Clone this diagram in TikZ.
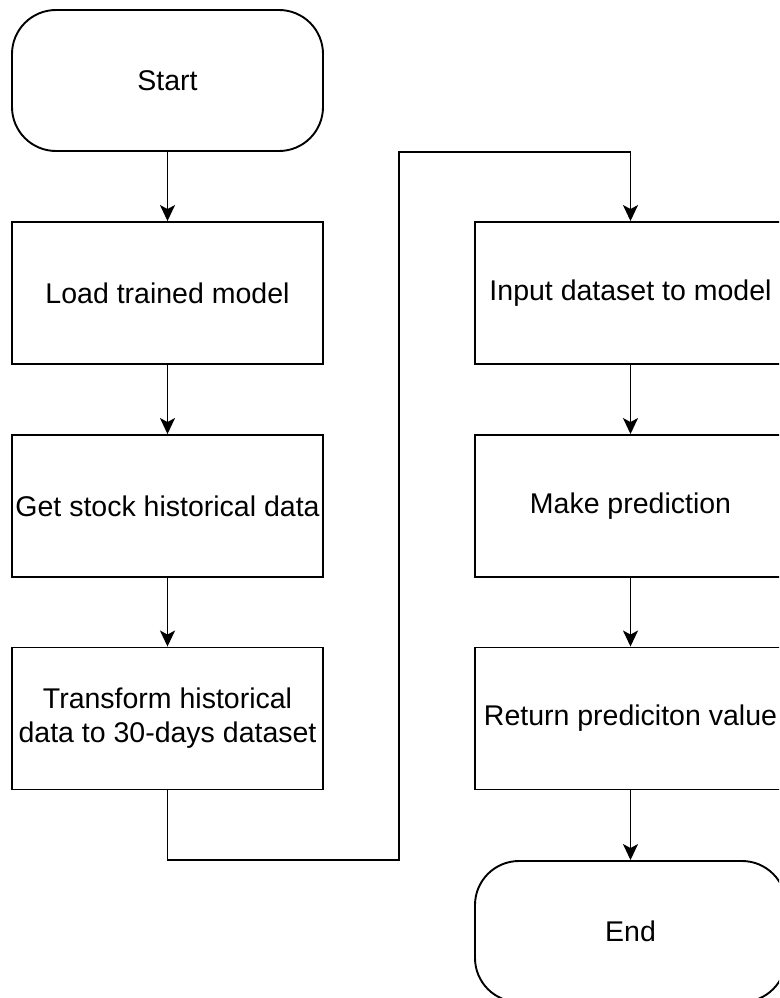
\documentclass[tikz,border=0pt]{standalone}
\usepackage{fontspec}
\setmainfont{Liberation Sans}
\usetikzlibrary{arrows.meta}
\begin{document}
\begin{tikzpicture}[x=1pt,y=-1pt,
  every node/.style={font=\fontsize{28.5}{34.2}\selectfont, align=center, inner sep=0pt},
  stepbox/.style={draw, line width=1.9pt, rectangle, minimum width=311pt, minimum height=142pt},
  termbox/.style={draw, line width=1.9pt, rectangle, rounded corners=44pt, minimum width=311pt, minimum height=141pt},
  arr/.style={line width=1.9pt, -{Stealth[length=16pt, width=15pt, inset=4pt]}}]
  \useasboundingbox (0,0) rectangle (779,998);
  \clip (0,0) rectangle (779,998);
  % left column
  \node[termbox] (start) at (167.5,80.5) {Start};
  \node[stepbox] (load)  at (167.5,293)  {Load trained model};
  \node[stepbox] (get)   at (167.5,506)  {Get stock historical data};
  \node[stepbox] (trans) at (167.5,718.5) {Transform historical\\data to 30-days dataset};
  % right column
  \node[stepbox] (inp)   at (630.5,293)  {Input dataset to model};
  \node[stepbox] (make)  at (630.5,506)  {Make prediction};
  \node[stepbox] (ret)   at (630.5,718.5) {Return prediciton value};
  \node[termbox] (fin)   at (630.5,931.5) {End};
  % connectors
  \draw[arr] (start) -- (load);
  \draw[arr] (load) -- (get);
  \draw[arr] (get) -- (trans);
  \coordinate (b1) at (167.5,860);
  \coordinate (b2) at (399,860);
  \coordinate (t1) at (399,152);
  \coordinate (t2) at (630.5,152);
  \draw[arr] (trans.south) -- (b1) -- (b2) -- (t1) -- (t2) -- (inp.north);
  \draw[arr] (inp) -- (make);
  \draw[arr] (make) -- (ret);
  \draw[arr] (ret) -- (fin);
\end{tikzpicture}
\end{document}
